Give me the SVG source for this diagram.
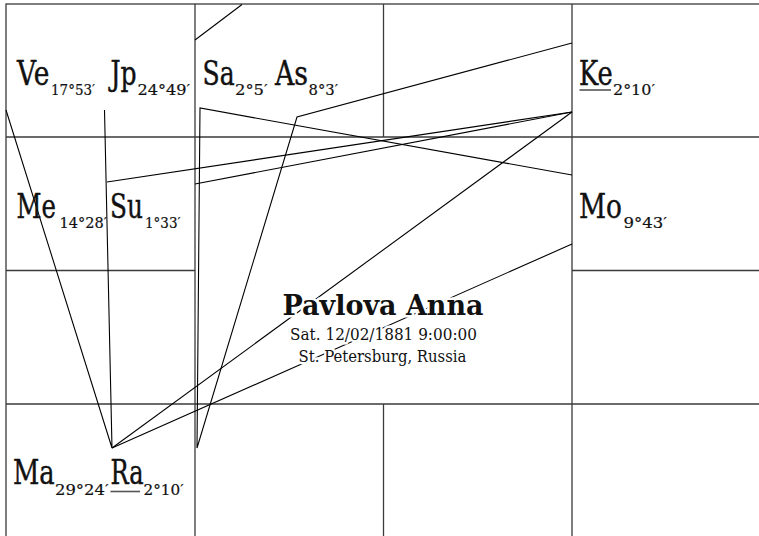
<svg xmlns="http://www.w3.org/2000/svg" width="759" height="536" viewBox="0 0 759 536">
<style>
.grid{stroke:#3a3a3a;stroke-width:1.3;fill:none}
.cn{stroke:#000;stroke-width:1.1;fill:none}
.pl{font-family:"DejaVu Serif","Liberation Serif",serif;font-size:33px;fill:#111;stroke:#111;stroke-width:0.45}
.sub{font-family:"DejaVu Serif","Liberation Serif",serif;font-size:14.5px;fill:#111;stroke:#111;stroke-width:0.2}
.ul{stroke:#555;stroke-width:1.6}
.c{font-family:"DejaVu Serif","Liberation Serif",serif;fill:#111;text-anchor:middle;stroke:#fff;stroke-width:5;stroke-linejoin:round;paint-order:stroke}
.nm{font-size:27.5px;font-weight:bold}
.dt{font-size:16.5px}
</style>
<rect width="759" height="536" fill="#fff"/>
<g id="grid" class="grid">
<rect x="6" y="4" width="755" height="533"/>
<line x1="195" y1="4" x2="195" y2="537"/>
<line x1="572" y1="4" x2="572" y2="537"/>
<line x1="6" y1="137" x2="761" y2="137"/>
<line x1="6" y1="404" x2="761" y2="404"/>
<line x1="383.5" y1="4" x2="383.5" y2="137"/>
<line x1="383.5" y1="404" x2="383.5" y2="537"/>
<line x1="6" y1="270.5" x2="195" y2="270.5"/>
<line x1="572" y1="270.5" x2="761" y2="270.5"/>
</g>
<g id="connectors" class="cn">
<line x1="195" y1="40" x2="242" y2="4.5"/>
<polyline points="6,110 112,448 104.5,110"/>
<line x1="107" y1="182" x2="572" y2="112"/>
<line x1="195" y1="184" x2="572" y2="112"/>
<polyline points="572,175 200,108 197,448 297,117 572,43"/>
<line x1="572" y1="112" x2="112" y2="448"/>
<line x1="572" y1="244" x2="112" y2="448"/>
</g>
<g id="ve"><text class="pl" transform="translate(17,85) scale(0.8,1)">Ve</text><text class="sub" transform="translate(51,95) scale(0.93,1)">17°53′</text></g>
<g id="jp"><text class="pl" transform="translate(110.5,85) scale(0.76,1)">Jp</text><text class="sub" transform="translate(137.5,95) scale(1.11,1)">24°49′</text></g>
<g id="sa"><text class="pl" transform="translate(202.5,85) scale(0.76,1)">Sa</text><text class="sub" transform="translate(235,95) scale(1.13,1)">2°5′</text></g>
<g id="as"><text class="pl" transform="translate(275,85) scale(0.81,1)">As</text><text class="sub" transform="translate(308.5,95) scale(1.02,1)">8°3′</text></g>
<g id="ke"><text class="pl" transform="translate(579,85) scale(0.78,1)">Ke</text><text class="sub" transform="translate(613,95) scale(1.1,1)">2°10′</text><line class="ul" x1="579.5" y1="90" x2="611" y2="90"/></g>
<g id="me"><text class="pl" transform="translate(16.5,218) scale(0.74,1)">Me</text><text class="sub" transform="translate(59.5,227.5) scale(1.0,1)">14°28′</text></g>
<g id="su"><text class="pl" transform="translate(110,218) scale(0.75,1)">Su</text><text class="sub" transform="translate(145,227.5) scale(0.93,1)">1°33′</text></g>
<g id="mo"><text class="pl" transform="translate(579,218) scale(0.8,1)">Mo</text><text class="sub" transform="translate(623.5,227.5) scale(1.14,1)">9°43′</text></g>
<g id="ma"><text class="pl" transform="translate(13,483.5) scale(0.78,1)">Ma</text><text class="sub" transform="translate(55,495) scale(1.13,1)">29°24′</text></g>
<g id="ra"><text class="pl" transform="translate(110.5,483.5) scale(0.73,1)">Ra</text><text class="sub" transform="translate(143.5,495) scale(1.05,1)">2°10′</text><line class="ul" x1="110.5" y1="491.5" x2="140" y2="491.5"/></g>
<g id="center">
<text class="c nm" transform="translate(383,315) scale(0.98,1)">Pavlova Anna</text>
<text class="c dt" transform="translate(383.5,340) scale(0.925,1)">Sat. 12/02/1881 9:00:00</text>
<text class="c dt" transform="translate(382.5,361.5) scale(0.9,1)">St. Petersburg, Russia</text>
</g>
</svg>
